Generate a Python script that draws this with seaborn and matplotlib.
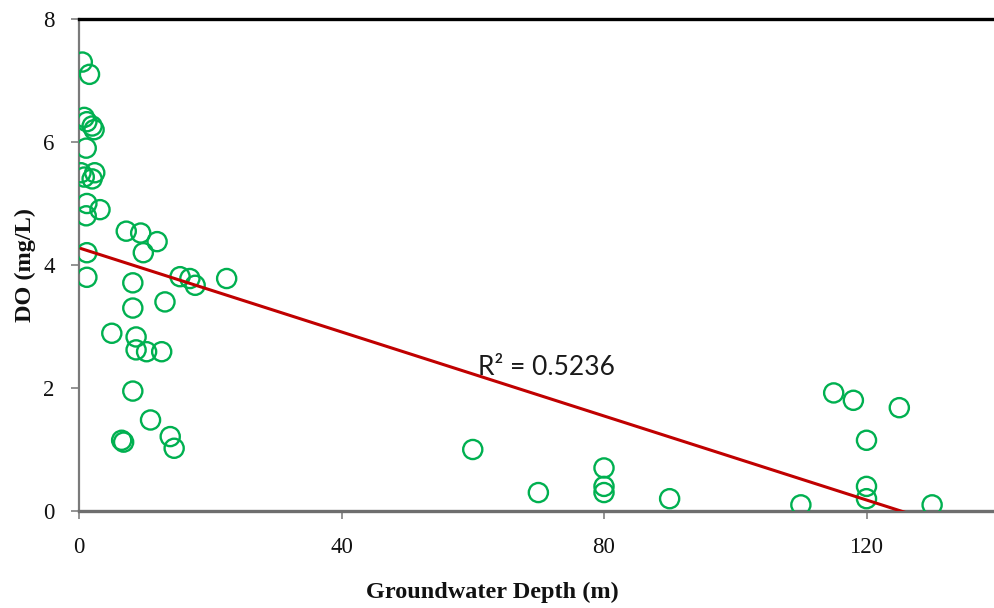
import numpy as np
import pandas as pd
import matplotlib
matplotlib.use("Agg")
import matplotlib.pyplot as plt
import seaborn as sns

# Groundwater depth (m) and dissolved oxygen (mg/L) for each well
depth_m = [0.5, 1.6, 0.8, 1.2, 2.0, 2.3, 1.1, 0.3, 2.4, 0.8, 2.0, 1.2, 3.2, 1.1,
           1.2, 1.2, 7.2, 9.4, 11.9, 9.8, 8.2, 15.4, 16.9, 17.7, 22.5, 13.1,
           8.2, 5.0, 8.7, 8.7, 10.3, 12.6, 8.2, 10.9, 6.5, 6.8, 13.9, 14.5,
           60, 70, 80, 80, 80, 90, 110, 115, 118, 125, 120, 120, 120, 130]
do_mgl = [7.30, 7.10, 6.40, 6.33, 6.26, 6.20, 5.90, 5.50, 5.50, 5.43, 5.40,
          5.00, 4.90, 4.80, 4.20, 3.80, 4.55, 4.52, 4.38, 4.20, 3.71, 3.81,
          3.78, 3.67, 3.78, 3.40, 3.30, 2.89, 2.83, 2.62, 2.59, 2.59, 1.95,
          1.48, 1.15, 1.12, 1.21, 1.02,
          1.00, 0.30, 0.70, 0.40, 0.30, 0.20, 0.10, 1.92, 1.80, 1.68, 1.15,
          0.40, 0.20, 0.10]
r_squared_label = "R\u00b2 = 0.5236"

x_ticks = [0, 40, 80, 120]
y_ticks = [0, 2, 4, 6, 8]

df = pd.DataFrame({"depth": depth_m, "do": do_mgl})

sns.set_theme(style="white")
plt.rcParams["font.family"] = ["Liberation Serif", "DejaVu Serif"]

fig = plt.figure(figsize=(9.94, 6.08), dpi=100)
ax = fig.add_axes([79 / 994, 97 / 608, 918.75 / 994, 492 / 608])

green = "#00B050"
red = "#C00000"

sns.scatterplot(data=df, x="depth", y="do", ax=ax, marker="o", s=190,
                facecolors="none", edgecolor=green, linewidth=1.7,
                legend=False, zorder=3)
sns.regplot(data=df, x="depth", y="do", ax=ax, scatter=False, ci=None,
            truncate=True, line_kws={"color": red, "linewidth": 2.2,
                                     "zorder": 4})

ax.text(71.3, 2.34, r_squared_label, ha="center", va="center",
        fontsize=19, family=["Lato", "DejaVu Sans"], color="#1a1a1a")

ax.set_xlim(0, 140)
ax.set_ylim(0, 8)
ax.set_xticks(x_ticks)
ax.set_yticks(y_ticks)
ax.tick_params(axis="both", which="major", direction="out", length=5.5,
               width=1.2, color="#808080", labelsize=16.5, labelcolor="#111111",
               bottom=True, left=True)
ax.tick_params(axis="y", pad=12)
ax.tick_params(axis="x", pad=13)

ax.spines["right"].set_visible(False)
ax.spines["top"].set_color("black")
ax.spines["top"].set_linewidth(2.4)
ax.spines["left"].set_color("#7a7a7a")
ax.spines["left"].set_linewidth(1.6)
ax.spines["bottom"].set_color("#6e6e6e")
ax.spines["bottom"].set_linewidth(2.4)

ax.set_xlabel("Groundwater Depth (m)", fontsize=17.5, fontweight="bold",
              color="#111111")
ax.set_ylabel("DO (mg/L)", fontsize=17.5, fontweight="bold", color="#111111")
ax.xaxis.set_label_coords(0.4495, -0.143)
ax.yaxis.set_label_coords(-0.047, 0.5)
ax.grid(False)

fig.savefig("out.png", dpi=100)
